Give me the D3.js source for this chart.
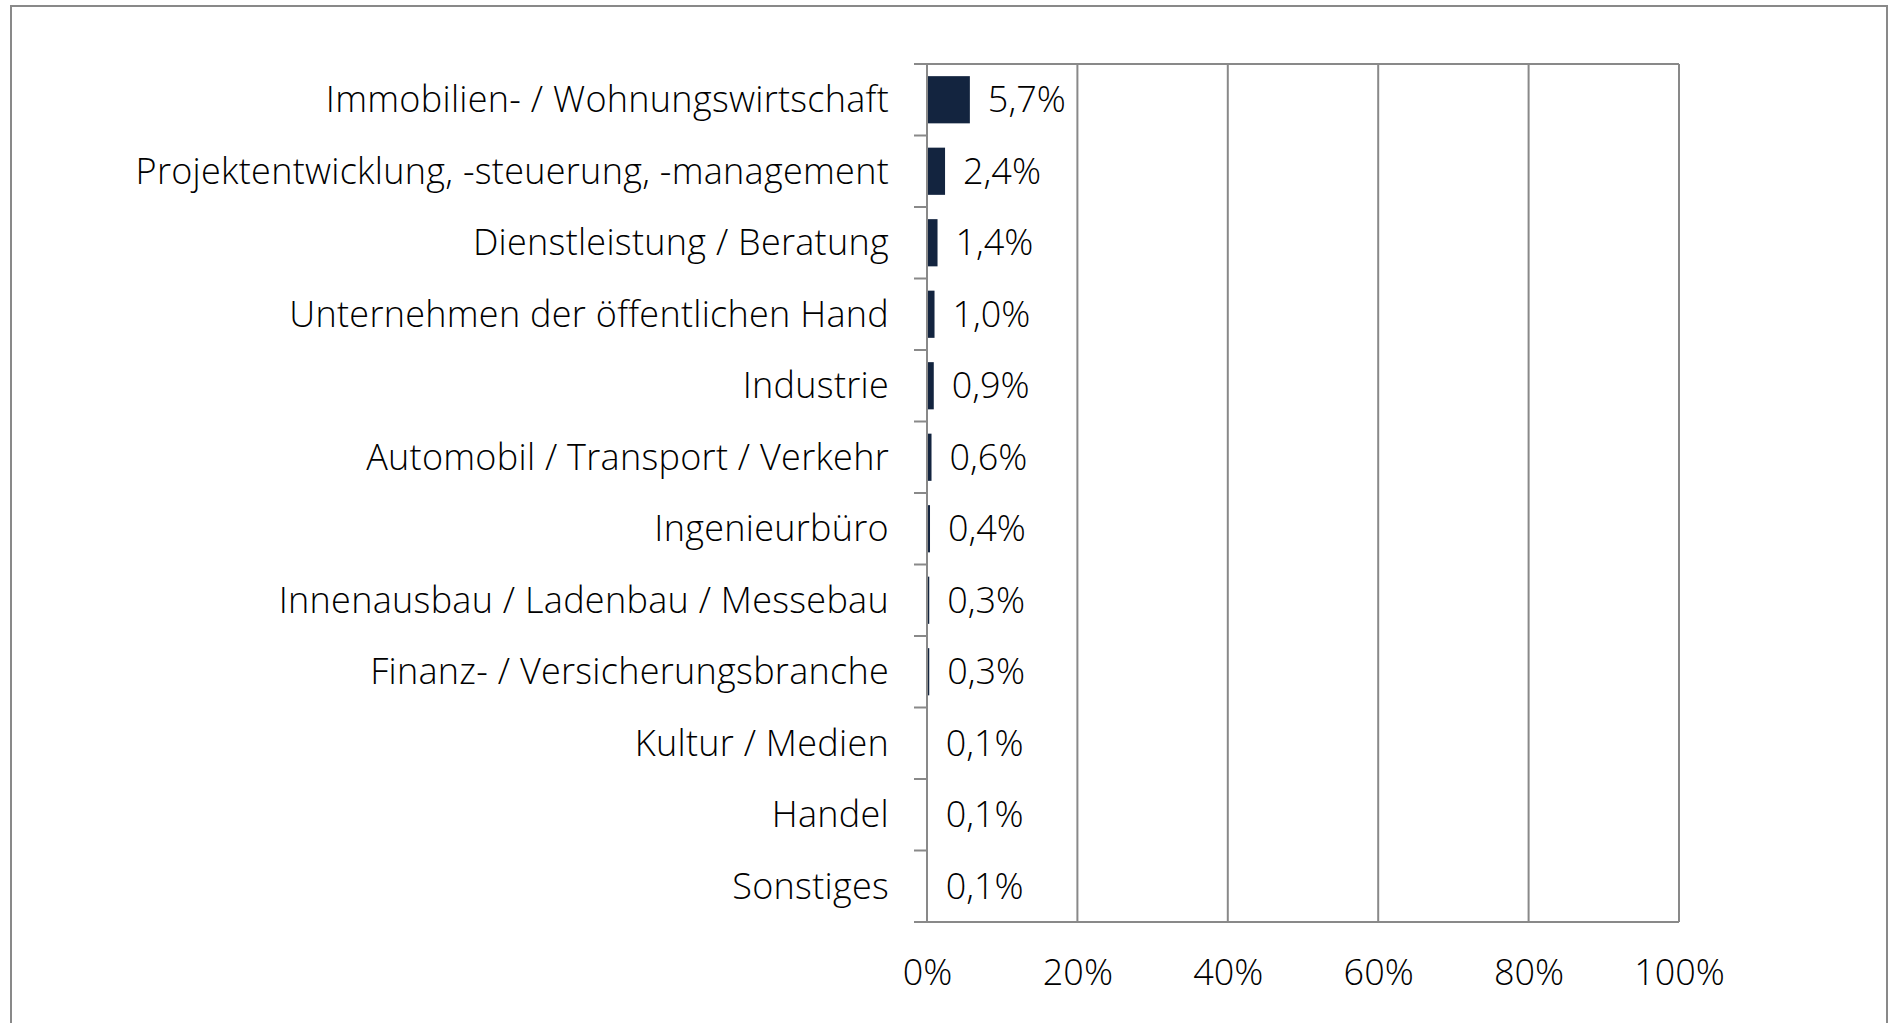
<!DOCTYPE html>
<html lang="de">
<meta charset="utf-8">
<head>
    <script src="https://d3js.org/d3.v7.min.js"></script>
</head>
<body style="margin:0;background:#fff;">
<style>
    text { font-family: "Open Sans", Lato, sans-serif; font-weight: 300; fill: #000; }
    .cat { letter-spacing: 0.28px; }
    .bar { fill: #13243f; }
</style>
<svg width="1888" height="1023"></svg>
</body>

<script>
// chart data
var categories = ["Immobilien- / Wohnungswirtschaft", "Projektentwicklung, -steuerung, -management",
    "Dienstleistung / Beratung", "Unternehmen der öffentlichen Hand", "Industrie",
    "Automobil / Transport / Verkehr", "Ingenieurbüro", "Innenausbau / Ladenbau / Messebau",
    "Finanz- / Versicherungsbranche", "Kultur / Medien", "Handel", "Sonstiges"];
var values = [5.7, 2.4, 1.4, 1.0, 0.9, 0.6, 0.4, 0.3, 0.3, 0.1, 0.1, 0.1];
var xTicks = [0, 20, 40, 60, 80, 100];

var svg = d3.select("svg");
var gridColor = "#898989";
var fontSize = 36;

// outer frame
svg.append("rect")
    .attr("x", 11).attr("y", 6)
    .attr("width", 1876).attr("height", 1100)
    .attr("fill", "none")
    .attr("stroke", gridColor)
    .attr("stroke-width", 2);

var plotLeft = 927, plotTop = 64, plotRight = 1679, plotBottom = 922;
var width = plotRight - plotLeft, height = plotBottom - plotTop;

var x = d3.scaleLinear().domain([0, 100]).range([0, width]);
var y = d3.scaleBand().domain(categories).range([0, height]).paddingInner(0.34).paddingOuter(0.17);

var g = svg.append("g").attr("transform", "translate(" + plotLeft + "," + plotTop + ")");

// vertical gridlines
g.selectAll(".grid")
    .data(xTicks)
    .enter().append("line")
    .attr("x1", function(d) { return x(d); })
    .attr("x2", function(d) { return x(d); })
    .attr("y1", 0).attr("y2", height)
    .attr("stroke", gridColor).attr("stroke-width", 2);

// category boundaries (ticks left of the axis, plus top/bottom lines)
var step = y.step();
var bounds = d3.range(categories.length + 1).map(function(i) { return i * step; });
g.selectAll(".tick-line")
    .data(bounds)
    .enter().append("line")
    .attr("x1", -13)
    .attr("x2", function(d, i) { return (i === 0 || i === categories.length) ? width : 0; })
    .attr("y1", function(d) { return d; })
    .attr("y2", function(d) { return d; })
    .attr("stroke", gridColor).attr("stroke-width", 2);

// bars
g.selectAll(".bar")
    .data(values)
    .enter().append("rect")
    .attr("class", "bar")
    .attr("x", 1)
    .attr("y", function(d, i) { return y(categories[i]); })
    .attr("width", function(d) { return Math.max(0, x(d) - 1); })
    .attr("height", y.bandwidth());

// value labels
g.selectAll(".val")
    .data(values)
    .enter().append("text")
    .attr("class", "val")
    .attr("x", function(d) { return x(d) + 18; })
    .attr("y", function(d, i) { return y(categories[i]) + y.bandwidth() / 2; })
    .attr("dy", "0.35em")
    .attr("font-size", fontSize)
    .text(function(d) { return d.toFixed(1).replace(".", ",") + "%"; });

// category labels
g.selectAll(".cat")
    .data(categories)
    .enter().append("text")
    .attr("class", "cat")
    .attr("x", -38)
    .attr("y", function(d) { return y(d) + y.bandwidth() / 2; })
    .attr("dy", "0.35em")
    .attr("text-anchor", "end")
    .attr("font-size", fontSize)
    .text(function(d) { return d; });

// x axis labels
var xAxis = g.append("g")
    .attr("transform", "translate(0," + height + ")")
    .call(d3.axisBottom(x).tickValues(xTicks).tickSize(0).tickPadding(37)
        .tickFormat(function(d) { return d + "%"; }));
xAxis.select(".domain").remove();
xAxis.selectAll("text")
    .attr("font-size", fontSize)
    .style("font-family", "'Open Sans', Lato, sans-serif")
    .style("font-weight", 300)
    .attr("fill", "#000");
</script>
